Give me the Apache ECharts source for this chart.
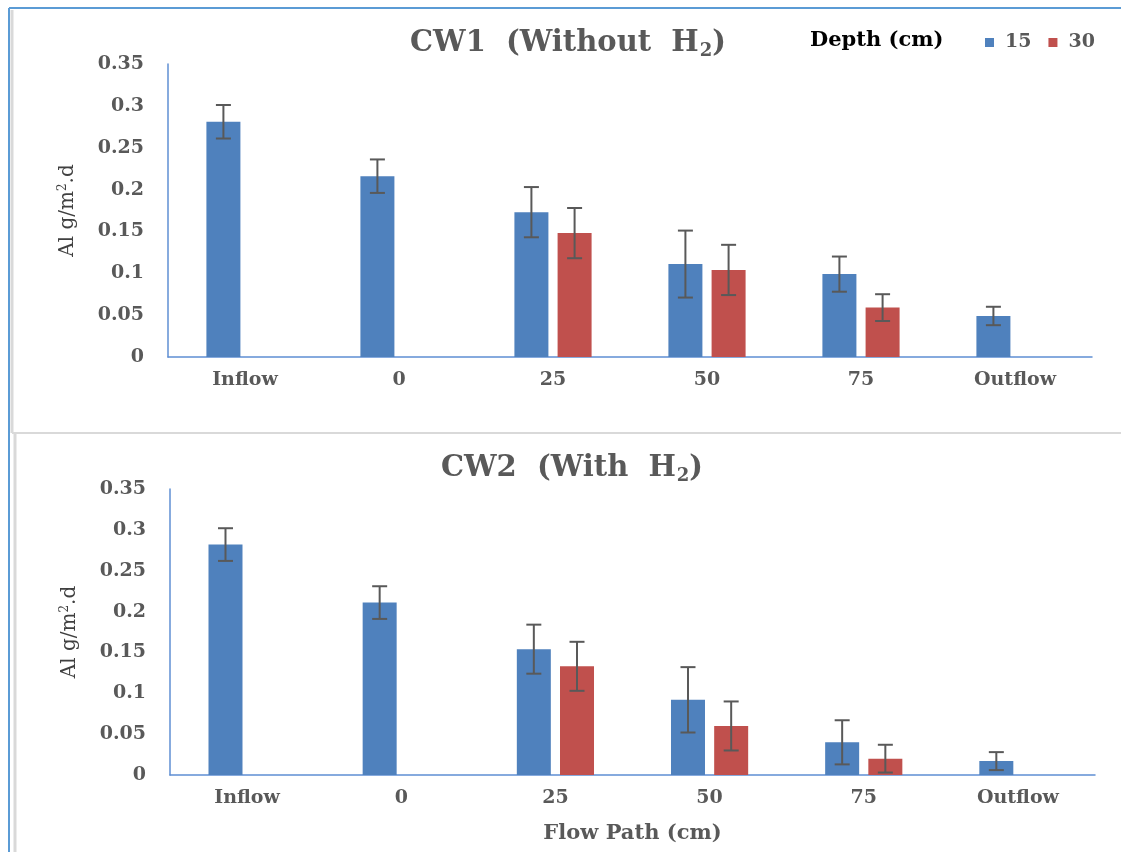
<!DOCTYPE html>
<html>
<head>
<meta charset="utf-8">
<script src="https://cdn.jsdelivr.net/npm/echarts@6/dist/echarts.min.js"></script>
<style>
html,body{margin:0;padding:0;background:#fff;}
#chart{width:1121px;height:852px;}
</style>
</head>
<body>
<div id="chart"></div>
<script>
// ---- data ----
var categories = ['Inflow', '0', '25', '50', '75', 'Outflow'];
var seriesNames = ['15', '30'];
var yTicks = [0, 0.05, 0.1, 0.15, 0.2, 0.25, 0.3, 0.35];

var cw1Depth15 = [0.281, 0.216, 0.173, 0.111, 0.099, 0.049];
var cw1Depth15Err = [0.020, 0.020, 0.030, 0.040, 0.021, 0.011];
var cw1Depth30 = [null, null, 0.148, 0.104, 0.059, null];
var cw1Depth30Err = [null, null, 0.030, 0.030, 0.016, null];

var cw2Depth15 = [0.282, 0.211, 0.154, 0.092, 0.040, 0.017];
var cw2Depth15Err = [0.020, 0.020, 0.030, 0.040, 0.027, 0.011];
var cw2Depth30 = [null, null, 0.133, 0.060, 0.020, null];
var cw2Depth30Err = [null, null, 0.030, 0.030, 0.017, null];

// ---- styling ----
var BLUE = '#4f81bd', RED = '#c0504d';
var AXIS = '#5f8fd3';
var LABEL = '#595959';
var SERIF = '"DejaVu Serif", "Liberation Serif", serif';
var BAR_W = 34, BAR_GAP = 0.27;
var OFF = (BAR_W + BAR_W * BAR_GAP) / 2;

function barData(vals) { return vals.map(function (v) { return v == null ? '-' : v; }); }
function errData(vals, errs) {
  var out = [];
  vals.forEach(function (v, i) { if (v != null) out.push([i, v, errs[i]]); });
  return out;
}
function errRender(offset) {
  return function (params, api) {
    var idx = api.value(0), v = api.value(1), e = api.value(2);
    var hi = api.coord([idx, v + e]);
    var lo = api.coord([idx, v - e]);
    var x = hi[0] + offset, cap = 7.5;
    var st = { stroke: '#595959', lineWidth: 2 };
    return {
      type: 'group', children: [
        { type: 'line', shape: { x1: x, y1: hi[1], x2: x, y2: lo[1] }, style: st },
        { type: 'line', shape: { x1: x - cap, y1: hi[1], x2: x + cap, y2: hi[1] }, style: st },
        { type: 'line', shape: { x1: x - cap, y1: lo[1], x2: x + cap, y2: lo[1] }, style: st }
      ]
    };
  };
}

var titleRich = {
  a: { fontFamily: SERIF, fontWeight: 'bold', fontSize: 29, color: LABEL },
  s: { fontFamily: SERIF, fontWeight: 'bold', fontSize: 18, color: LABEL, verticalAlign: 'bottom', padding: [15, 0, 0, 1] }
};
var nameRich = {
  n: { fontFamily: SERIF, fontSize: 20, color: '#404040' },
  sup: { fontFamily: SERIF, fontSize: 12, color: '#404040', verticalAlign: 'top', padding: [0, 0, 9, 0] }
};

function yAxisCfg(gridIndex) {
  return {
    type: 'value', gridIndex: gridIndex, min: yTicks[0], max: yTicks[yTicks.length - 1], interval: yTicks[1] - yTicks[0],
    axisLine: { show: true, lineStyle: { color: AXIS, width: 1.5 } },
    axisTick: { show: false },
    splitLine: { show: false },
    axisLabel: { fontFamily: SERIF, fontWeight: 'bold', fontSize: 19, color: LABEL, margin: 24 },
    name: '{n|Al g/m}{sup|2}{n|.d}', nameLocation: 'middle', nameGap: 90, nameRotate: 90,
    nameTextStyle: { rich: nameRich }
  };
}
function xAxisCfg(gridIndex, withName) {
  var c = {
    type: 'category', gridIndex: gridIndex, data: categories,
    axisLine: { show: true, lineStyle: { color: AXIS, width: 1.5 } },
    axisTick: { show: false },
    axisLabel: { fontFamily: SERIF, fontWeight: 'bold', fontSize: 19, color: LABEL, margin: 14, interval: 0 }
  };
  if (withName) {
    c.name = 'Flow Path (cm)';
    c.nameLocation = 'middle';
    c.nameGap = 48;
    c.nameTextStyle = { fontFamily: SERIF, fontWeight: 'bold', fontSize: 21, color: LABEL };
  }
  return c;
}
function barSeries(name, data, color, axisIdx) {
  return {
    type: 'bar', name: name, xAxisIndex: axisIdx, yAxisIndex: axisIdx,
    data: barData(data), barWidth: BAR_W, barGap: (BAR_GAP * 100) + '%',
    itemStyle: { color: color }
  };
}
function errSeries(name, vals, errs, offset, axisIdx) {
  return {
    type: 'custom', name: name, xAxisIndex: axisIdx, yAxisIndex: axisIdx, z: 5,
    renderItem: errRender(offset), data: errData(vals, errs)
  };
}

var chart = echarts.init(document.getElementById('chart'), null, { renderer: 'canvas' });
chart.setOption({
  animation: false,
  backgroundColor: '#ffffff',
  title: [
    { text: '{a|CW1  (Without  H}{s|2}{a|)}', left: 563, textAlign: 'center', top: 22, textStyle: { rich: titleRich } },
    { text: '{a|CW2  (With  H}{s|2}{a|)}', left: 567, textAlign: 'center', top: 447, textStyle: { rich: titleRich } },
    { text: 'Depth (cm)', left: 805, top: 25, textStyle: { fontFamily: SERIF, fontWeight: 'bold', fontSize: 21, color: '#000' } }
  ],
  legend: {
    data: seriesNames, left: 980, top: 28, itemWidth: 9, itemHeight: 9, itemGap: 17,
    icon: 'rect',
    textStyle: { fontFamily: SERIF, fontWeight: 'bold', fontSize: 19, color: LABEL, padding: [0, 0, 0, 6] }
  },
  grid: [
    { left: 168, right: 29, top: 64, height: 293, containLabel: false },
    { left: 170, right: 26, top: 489, height: 286, containLabel: false }
  ],
  xAxis: [xAxisCfg(0, false), xAxisCfg(1, true)],
  yAxis: [yAxisCfg(0), yAxisCfg(1)],
  series: [
    barSeries('15', cw1Depth15, BLUE, 0),
    barSeries('30', cw1Depth30, RED, 0),
    barSeries('15', cw2Depth15, BLUE, 1),
    barSeries('30', cw2Depth30, RED, 1),
    errSeries('err15a', cw1Depth15, cw1Depth15Err, -OFF, 0),
    errSeries('err30a', cw1Depth30, cw1Depth30Err, OFF, 0),
    errSeries('err15b', cw2Depth15, cw2Depth15Err, -OFF, 1),
    errSeries('err30b', cw2Depth30, cw2Depth30Err, OFF, 1)
  ],
  graphic: [
    { type: 'line', shape: { x1: 9, y1: 8, x2: 1121, y2: 8 }, style: { stroke: '#5b9bd5', lineWidth: 2 }, silent: true },
    { type: 'line', shape: { x1: 9, y1: 8, x2: 9, y2: 852 }, style: { stroke: '#5b9bd5', lineWidth: 2 }, silent: true },
    { type: 'line', shape: { x1: 12, y1: 10, x2: 12, y2: 433 }, style: { stroke: '#d9d9d9', lineWidth: 3 }, silent: true },
    { type: 'line', shape: { x1: 12, y1: 433, x2: 1121, y2: 433 }, style: { stroke: '#d9d9d9', lineWidth: 2 }, silent: true },
    { type: 'line', shape: { x1: 15, y1: 434, x2: 15, y2: 852 }, style: { stroke: '#d9d9d9', lineWidth: 3 }, silent: true }
  ]
});
</script>
</body>
</html>
